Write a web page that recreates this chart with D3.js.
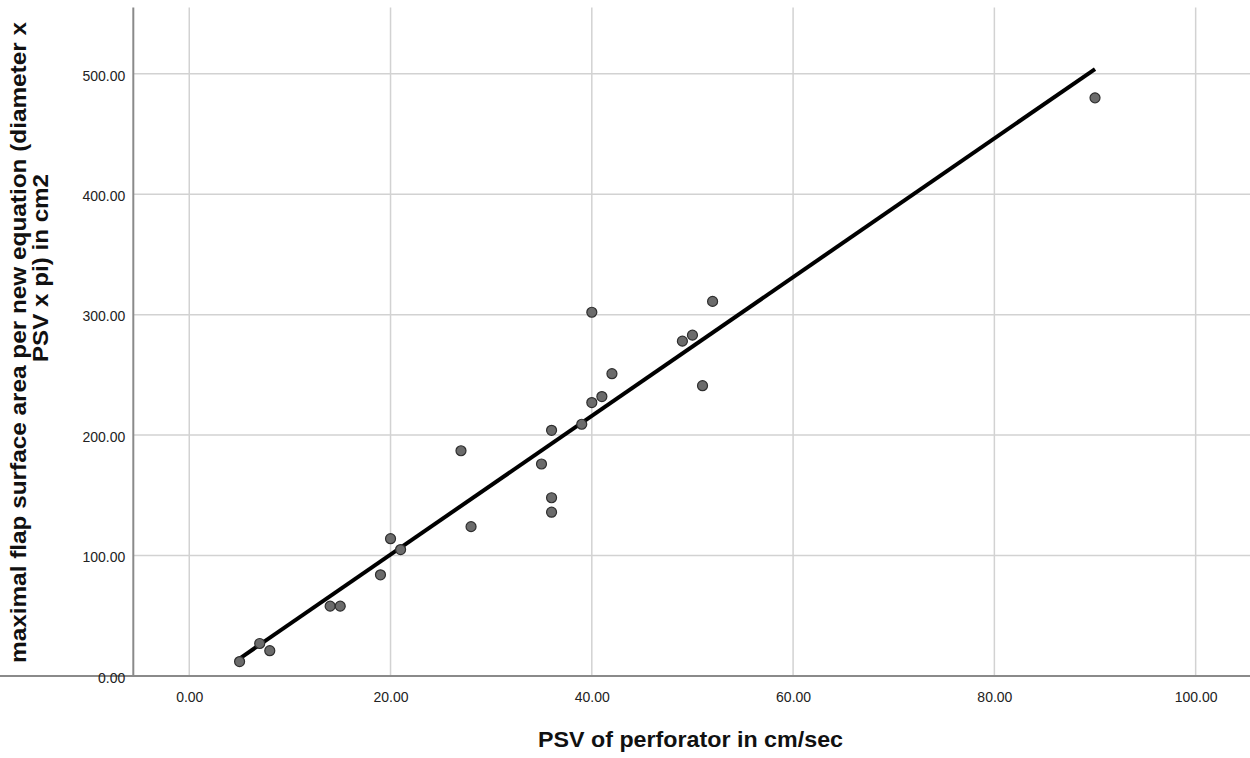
<!DOCTYPE html>
<html><head><meta charset="utf-8">
<script src="https://cdn.jsdelivr.net/npm/d3@7"></script>
<style>body{margin:0;background:#fff;} svg{display:block;}</style>
</head><body>
<script>
const psv = [5,7,8,14,15,19,20,21,27,28,35,36,36,36,39,40,40,41,42,49,50,51,52,90];
const area = [12,27,21,58,58,84,114,105,187,124,176,204,148,136,209,227,302,232,251,278,283,241,311,480];
const xTicks = [0,20,40,60,80,100];
const yTicks = [0,100,200,300,400,500];
const xTitle = "PSV of perforator in cm/sec";
const yTitleLines = ["maximal flap surface area per new equation (diameter x", "PSV x pi) in cm2"];

const W = 1250, H = 758;
const svg = d3.select("body").append("svg").attr("width", W).attr("height", H);
const font = "'Liberation Sans', Arial, sans-serif";

const xMin = -5.56, xMax = 105.4, yMax = 555;
const x = d3.scaleLinear().domain([xMin, xMax]).range([133.3, 1250]);
const y = d3.scaleLinear().domain([0, yMax]).range([676, 7.5]);

// gridlines
svg.append("g").selectAll("line").data(xTicks).join("line")
  .attr("x1", d => x(d)).attr("x2", d => x(d)).attr("y1", y(yMax)).attr("y2", y(0))
  .attr("stroke", "#d2d2d2").attr("stroke-width", 1.5);
svg.append("g").selectAll("line").data(yTicks).join("line")
  .attr("x1", x(xMin)).attr("x2", W).attr("y1", d => y(d)).attr("y2", d => y(d))
  .attr("stroke", "#d2d2d2").attr("stroke-width", 1.5);

// axes
const xAxis = svg.append("g").attr("transform", `translate(0,${y(0)})`)
  .call(d3.axisBottom(x).tickValues(xTicks).tickFormat(d3.format(".2f")).tickSize(0).tickPadding(16));
const yAxis = svg.append("g").attr("transform", `translate(${x(xMin)},0)`)
  .call(d3.axisLeft(y).tickValues(yTicks).tickFormat(d3.format(".2f")).tickSize(0).tickPadding(8));
[xAxis, yAxis].forEach(g => {
  g.select(".domain").attr("stroke", "#8a8a8a").attr("stroke-width", 2);
  g.selectAll("text").attr("font-family", font).attr("font-size", 14).attr("fill", "#222");
});
yAxis.selectAll("text").attr("dy", "0.45em");
yAxis.select(".domain").attr("d", `M0,${y(0)}V${y(yMax)}`);
xAxis.select(".domain").attr("d", `M0,0H${W}`);

// regression line (least squares)
const mx = d3.mean(psv), my = d3.mean(area);
const slope = d3.sum(psv, (v, i) => (v - mx) * (area[i] - my)) / d3.sum(psv, v => (v - mx) ** 2);
const icpt = my - slope * mx;
const [x0, x1] = d3.extent(psv);
svg.append("line")
  .attr("x1", x(x0)).attr("y1", y(icpt + slope * x0))
  .attr("x2", x(x1)).attr("y2", y(icpt + slope * x1))
  .attr("stroke", "#000").attr("stroke-width", 4);

// points
svg.append("g").selectAll("circle").data(psv.map((v, i) => [v, area[i]])).join("circle")
  .attr("cx", d => x(d[0])).attr("cy", d => y(d[1])).attr("r", 5)
  .attr("fill", "#6b6b6b").attr("stroke", "#2e2e2e").attr("stroke-width", 1.2);

// titles
svg.append("text").attr("x", 690.5).attr("y", 747).attr("text-anchor", "middle")
  .attr("font-family", font).attr("font-size", 22).attr("font-weight", "bold").attr("fill", "#111")
  .attr("textLength", 305).attr("lengthAdjust", "spacingAndGlyphs")
  .text(xTitle);
svg.append("text").attr("transform", "translate(26,342.5) rotate(-90)")
  .attr("text-anchor", "middle").attr("font-family", font).attr("font-size", 22)
  .attr("font-weight", "bold").attr("fill", "#111")
  .attr("textLength", 641).attr("lengthAdjust", "spacingAndGlyphs")
  .text(yTitleLines[0]);
svg.append("text").attr("transform", "translate(48,268) rotate(-90)")
  .attr("text-anchor", "middle").attr("font-family", font).attr("font-size", 22)
  .attr("font-weight", "bold").attr("fill", "#111")
  .attr("textLength", 188).attr("lengthAdjust", "spacingAndGlyphs")
  .text(yTitleLines[1]);
</script>
</body></html>
